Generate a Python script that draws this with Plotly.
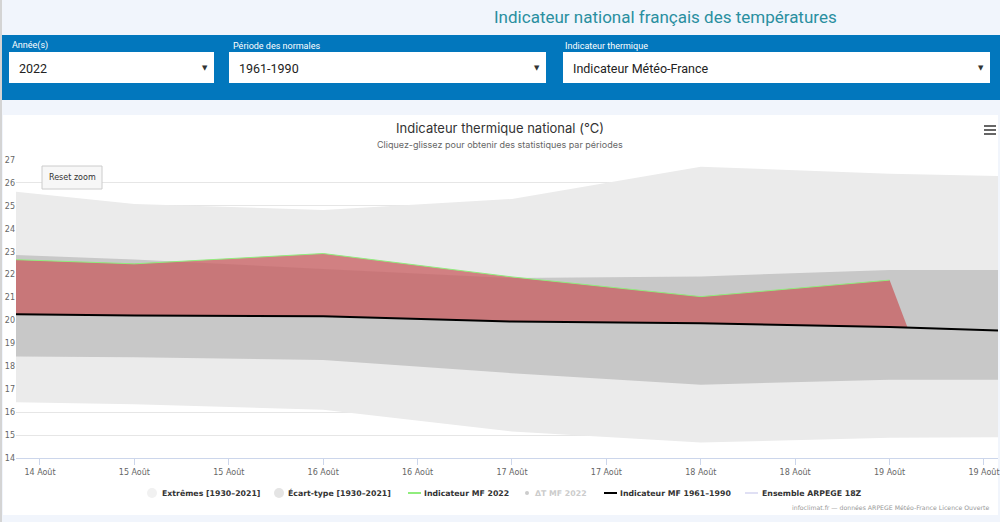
import plotly.graph_objects as go

W, H = 1000, 522


def px(x):
    return x / W


def py(y):
    return 1 - y / H


# ---------------- data ----------------
days = ["2022-08-14", "2022-08-15", "2022-08-16", "2022-08-17",
        "2022-08-18", "2022-08-19", "2022-08-20"]
ext_hi = [25.94, 25.08, 24.82, 25.30, 26.71, 26.40, 26.23]
ext_lo = [16.48, 16.35, 16.10, 15.16, 14.68, 14.88, 14.92]
sd_hi = [22.98, 22.66, 22.25, 21.85, 21.92, 22.20, 22.20]
sd_lo = [18.45, 18.40, 18.28, 17.70, 17.20, 17.41, 17.41]
normal_6190 = [20.30, 20.22, 20.18, 19.95, 19.88, 19.71, 19.45]

mf_days = ["2022-08-14", "2022-08-15", "2022-08-16", "2022-08-17",
           "2022-08-18", "2022-08-19"]
mf2022 = [22.76, 22.47, 22.92, 21.90, 21.04, 21.76]

delta_days = mf_days + ["2022-08-19 02:17"]
delta_hi = mf2022 + [19.69]
delta_lo = [20.30, 20.22, 20.18, 19.95, 19.88, 19.71, 19.69]

tick_vals = ["2022-08-14 12:00", "2022-08-15 00:00", "2022-08-15 12:00",
             "2022-08-16 00:00", "2022-08-16 12:00", "2022-08-17 00:00",
             "2022-08-17 12:00", "2022-08-18 00:00", "2022-08-18 12:00",
             "2022-08-19 00:00", "2022-08-19 12:00"]
tick_text = ["14 Août", "15 Août", "15 Août", "16 Août", "16 Août", "17 Août",
             "17 Août", "18 Août", "18 Août", "19 Août", "19 Août"]
x_range = ["2022-08-14 08:57", "2022-08-19 13:47"]

legend_names = ["Extrêmes [1930–2021]", "Écart-type [1930–2021]", "Indicateur MF 2022",
                "ΔT MF 2022", "Indicateur MF 1961–1990", "Ensemble ARPEGE 18Z"]
legend_colors = ["#f1f1f1", "#e4e4e4", "#90ed7d", "#cccccc", "#000000", "#e0e0f4"]
legend_kinds = ["circle", "circle", "line", "dot", "line", "line"]
legend_text_colors = ["#333333", "#333333", "#333333", "#cccccc", "#333333", "#333333"]

FONT = "DejaVu Sans"

fig = go.Figure()

# extremes band
fig.add_trace(go.Scatter(x=days, y=ext_lo, mode="lines", line=dict(width=0),
                         name=legend_names[0], showlegend=False, hoverinfo="skip"))
fig.add_trace(go.Scatter(x=days, y=ext_hi, mode="lines", line=dict(width=0),
                         fill="tonexty", fillcolor="#ebebeb",
                         name=legend_names[0], showlegend=False, hoverinfo="skip"))
# std band
fig.add_trace(go.Scatter(x=days, y=sd_lo, mode="lines", line=dict(width=0),
                         name=legend_names[1], showlegend=False, hoverinfo="skip"))
fig.add_trace(go.Scatter(x=days, y=sd_hi, mode="lines", line=dict(width=0),
                         fill="tonexty", fillcolor="#c8c8c8",
                         name=legend_names[1], showlegend=False, hoverinfo="skip"))
# delta area (red)
fig.add_trace(go.Scatter(x=delta_days, y=delta_lo, mode="lines", line=dict(width=0),
                         name=legend_names[3], showlegend=False, hoverinfo="skip"))
fig.add_trace(go.Scatter(x=delta_days, y=delta_hi, mode="lines", line=dict(width=0),
                         fill="tonexty", fillcolor="rgba(200,95,97,0.77)",
                         name=legend_names[3], showlegend=False, hoverinfo="skip"))
# lines
fig.add_trace(go.Scatter(x=mf_days, y=mf2022, mode="lines", name=legend_names[2],
                         line=dict(color="#90ed7d", width=1), showlegend=False))
fig.add_trace(go.Scatter(x=days, y=normal_6190, mode="lines", name=legend_names[4],
                         line=dict(color="#000000", width=2), showlegend=False))

shapes = []
annotations = []

# page decorations
shapes.append(dict(type="rect", xref="paper", yref="paper", layer="below",
                   x0=px(0), x1=px(1000), y0=py(35), y1=py(100),
                   fillcolor="#0277bd", line=dict(width=0)))
for (x0, x1) in [(9, 214), (229, 546), (563, 990)]:
    shapes.append(dict(type="rect", xref="paper", yref="paper", layer="below",
                       x0=px(x0), x1=px(x1), y0=py(52), y1=py(83),
                       fillcolor="#ffffff", line=dict(width=0)))
shapes.append(dict(type="rect", xref="paper", yref="paper", layer="below",
                   x0=px(3), x1=px(998), y0=py(115), y1=py(515),
                   fillcolor="#ffffff", line=dict(width=0)))
shapes.append(dict(type="rect", xref="paper", yref="paper", layer="below",
                   x0=px(0), x1=px(2), y0=py(0), y1=py(522),
                   fillcolor="#d4d4d4", line=dict(width=0)))
# reset zoom button
shapes.append(dict(type="rect", xref="paper", yref="paper", layer="above",
                   x0=px(42), x1=px(102), y0=py(166), y1=py(189),
                   fillcolor="#f7f7f7", line=dict(color="#cccccc", width=1)))
# hamburger
for yy in (126, 130, 134):
    shapes.append(dict(type="line", xref="paper", yref="paper",
                       x0=px(984), x1=px(996), y0=py(yy), y1=py(yy),
                       line=dict(color="#666666", width=2)))

# legend (drawn below the plot, Highcharts style)
leg_sym_x = [152, 279, 408, 527, 604, 745]
leg_text_x = [160, 286, 422, 533, 618, 760]
leg_y = 493
for name, col, kind, tcol, sx, tx in zip(legend_names, legend_colors, legend_kinds,
                                         legend_text_colors, leg_sym_x, leg_text_x):
    if kind == "circle":
        shapes.append(dict(type="circle", xref="paper", yref="paper",
                           x0=px(sx - 5), x1=px(sx + 5), y0=py(leg_y + 5), y1=py(leg_y - 5),
                           fillcolor=col, line=dict(width=0)))
    elif kind == "dot":
        shapes.append(dict(type="circle", xref="paper", yref="paper",
                           x0=px(sx - 2), x1=px(sx + 2), y0=py(leg_y + 2), y1=py(leg_y - 2),
                           fillcolor=col, line=dict(width=0)))
    else:
        shapes.append(dict(type="line", xref="paper", yref="paper",
                           x0=px(sx), x1=px(sx + 13), y0=py(leg_y), y1=py(leg_y),
                           line=dict(color=col, width=2)))
    annotations.append(dict(text="<b>%s</b>" % name, x=px(tx), y=py(leg_y),
                            xref="paper", yref="paper", xanchor="left", yanchor="middle",
                            showarrow=False,
                            font=dict(family=FONT, size=7.8, color=tcol)))

annotations.append(dict(text="Indicateur national français des températures",
                        x=px(665), y=py(17), xref="paper", yref="paper",
                        xanchor="center", yanchor="middle", showarrow=False,
                        font=dict(family="Roboto", size=17, color="#2a8fa0")))
for (lx, label) in [(10, "Année(s)"), (231, "Période des normales"), (563, "Indicateur thermique")]:
    annotations.append(dict(text=label, x=px(lx), y=py(46), xref="paper", yref="paper",
                            xanchor="left", yanchor="middle", showarrow=False,
                            font=dict(family="Roboto", size=9, color="#ffffff")))
for (tx, val) in [(17, "2022"), (237, "1961-1990"), (571, "Indicateur Météo-France")]:
    annotations.append(dict(text=val, x=px(tx), y=py(68), xref="paper", yref="paper",
                            xanchor="left", yanchor="middle", showarrow=False,
                            font=dict(family="Roboto", size=12.5, color="#222222")))
for ax in (205, 537, 981):
    annotations.append(dict(text="▼", x=px(ax), y=py(68), xref="paper", yref="paper",
                            xanchor="center", yanchor="middle", showarrow=False,
                            font=dict(family="DejaVu Sans", size=7, color="#333333")))
annotations.append(dict(text="Cliquez-glissez pour obtenir des statistiques par périodes",
                        x=px(500), y=py(144), xref="paper", yref="paper",
                        xanchor="center", yanchor="middle", showarrow=False,
                        font=dict(family="Inter", size=9, color="#666666")))
annotations.append(dict(text="Reset zoom", x=px(72), y=py(177.5), xref="paper", yref="paper",
                        xanchor="center", yanchor="middle", showarrow=False,
                        font=dict(family=FONT, size=8, color="#333333")))
annotations.append(dict(text="infoclimat.fr — données ARPEGE Météo-France Licence Ouverte",
                        x=px(991), y=py(507), xref="paper", yref="paper",
                        xanchor="right", yanchor="middle", showarrow=False,
                        font=dict(family=FONT, size=6.2, color="#999999")))

fig.update_layout(
    width=W, height=H,
    margin=dict(l=0, r=0, t=0, b=0, autoexpand=False),
    paper_bgcolor="#f1f5fc",
    plot_bgcolor="rgba(0,0,0,0)",
    title=dict(text="Indicateur thermique national (°C)",
               x=0.5, xanchor="center", xref="paper",
               y=py(128), yref="container", yanchor="middle",
               font=dict(family="Inter", size=13, color="#333333")),
    xaxis=dict(domain=[px(16), px(998)], range=x_range, type="date",
               tickmode="array", tickvals=tick_vals, ticktext=tick_text,
               showgrid=False, zeroline=False, automargin=False,
               showline=True, linecolor="#ccd6eb", linewidth=1,
               ticks="outside", ticklen=6, tickcolor="#ccd6eb",
               tickfont=dict(family=FONT, size=8, color="#666666")),
    yaxis=dict(domain=[py(458), py(160)], range=[14, 27], dtick=1, tick0=14,
               showgrid=True, gridcolor="#e6e6e6", gridwidth=1, zeroline=False,
               showline=False, ticks="", automargin=False,
               tickfont=dict(family=FONT, size=8, color="#666666")),
    shapes=shapes,
    annotations=annotations,
    showlegend=False,
)

fig.write_html("out.html", config={"displayModeBar": False},
               post_script="document.body.style.margin='0';")
